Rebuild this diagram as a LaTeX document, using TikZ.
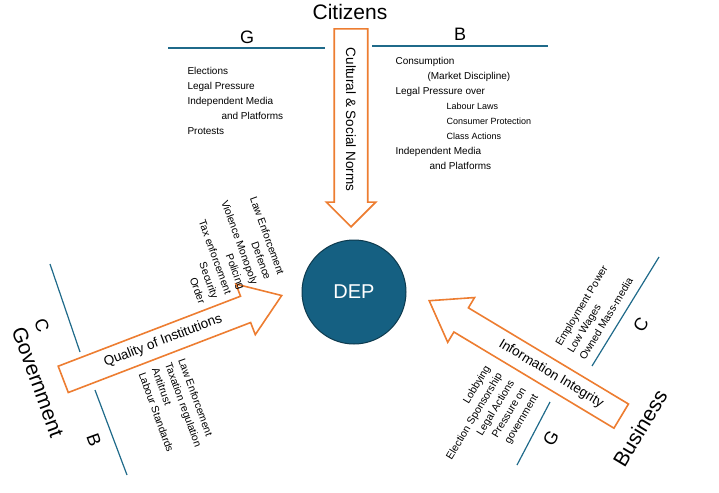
\documentclass[tikz,border=0pt]{standalone}
\usepackage{fontspec}
\setmainfont{Liberation Sans}
\usetikzlibrary{shapes.arrows}
\definecolor{arr}{HTML}{ED7D31}
\definecolor{ln}{HTML}{1F6A8A}
\definecolor{dep}{HTML}{156082}
\begin{document}
\begin{tikzpicture}[
	x=1pt,y=-1pt,
	font=\fontsize{10}{15}\selectfont,
	ar/.style={single arrow,draw=arr,line width=1.6pt,fill=white,font=\fontsize{13.5}{15}\selectfont,inner ysep=7pt},
	sl/.style={ln,line width=1.2pt},
	big/.style={font=\fontsize{18}{20}\selectfont},
	huge/.style={font=\fontsize{21}{24}\selectfont},
	rl/.style={font=\fontsize{10.5}{14}\selectfont,inner sep=1pt},
	]
\useasboundingbox (0,0) rectangle (719,492);
% citizens
\node [huge] (cit) at (350,12) {Citizens};
\coordinate (gl1) at (168,48); \coordinate (gl2) at (325,48);
\coordinate (bl1) at (372,46); \coordinate (bl2) at (548,46);
\draw [sl] (gl1) -- (gl2);
\draw [sl] (bl1) -- (bl2);
\node [big] (cg) at (247,37) {G};
\node [big] (cb) at (460,34) {B};
\node [anchor=north west,align=left] (cgl) at (184,64) {Elections\\Legal Pressure\\Independent Media\\\hspace{34pt}and Platforms\\Protests};
\node [anchor=north west,align=left] (cbl) at (392,54) {Consumption\\\hspace{32pt}(Market Discipline)\\Legal Pressure over\\\hspace{51pt}{\fontsize{9}{14.5}\selectfont Labour Laws}\\\hspace{51pt}{\fontsize{9}{14.5}\selectfont Consumer Protection}\\\hspace{51pt}{\fontsize{9}{14.5}\selectfont Class Actions}\\Independent Media\\\hspace{34pt}and Platforms};
\node [ar,rotate=-90,minimum height=198,single arrow head extend=8pt,single arrow tip angle=90,inner ysep=11pt,anchor=tip] (cn) at (351,228) {Cultural \& Social Norms\hspace{12pt}};
% center
\node [circle,draw=dep!60!black,line width=1pt,fill=dep,minimum size=104,text=white,font=\fontsize{20}{22}\selectfont] (dep) at (354,292) {DEP};
% government
\node [ar,rotate=21,minimum height=234,single arrow head extend=13pt,single arrow tip angle=70,anchor=tip] (qi) at (283,295) {Quality of Institutions\hspace{70pt}};
\coordinate (gc1) at (50,264); \coordinate (gc2) at (80,352);
\coordinate (gb1) at (95,390); \coordinate (gb2) at (127,475);
\draw [sl] (gc1) -- (gc2);
\draw [sl] (gb1) -- (gb2);
\node [big,rotate=-70] (gvc) at (42,325) {C};
\node [big,rotate=-70] (gvb) at (94,440) {B};
\node [huge,rotate=-70] (gov) at (38,382) {Government};
\node [rl,rotate=-70,align=right,anchor=south east] (gvcl) at (198,306) {Law Enforcement\\Defence\\Violence Monopoly\\Policing\\Tax enforcement\\Security\\Order};
\node [rl,rotate=-70,align=left,anchor=north west] (gvbl) at (186,356) {Law Enforcement\\Taxation regulation\\Antitrust\\Labour Standards};
% business
\node [ar,rotate=-31,shape border rotate=180,minimum height=224,single arrow head extend=12pt,single arrow tip angle=70,anchor=tip] (ii) at (428,300) {\hspace{40pt}Information Integrity};
\coordinate (bc1) at (659,257); \coordinate (bc2) at (592,366);
\coordinate (bg1) at (550,402); \coordinate (bg2) at (517,465);
\draw [sl] (bc1) -- (bc2);
\draw [sl] (bg1) -- (bg2);
\node [big,rotate=59] (bsc) at (641,325) {C};
\node [big,rotate=59] (bsg) at (551,438) {G};
\node [huge,rotate=59] (bus) at (640,428) {Business};
\node [rl,rotate=59,align=left,anchor=north west] (bscl) at (553,343) {Employment Power\\Low Wages\\Owned Mass-media};
\node [rl,rotate=59,align=right,anchor=south east] (bsgl) at (542,398) {Lobbying\\Election Sponsorship\\Legal Actions\\Pressure on\\government};
\end{tikzpicture}
\end{document}
